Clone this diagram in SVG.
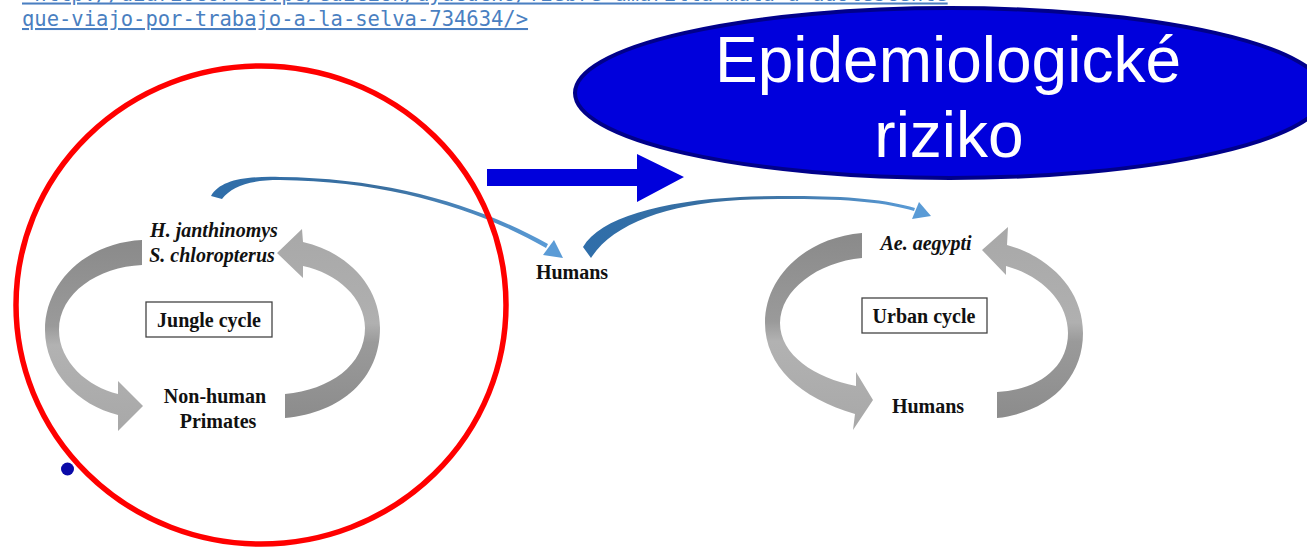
<svg xmlns="http://www.w3.org/2000/svg" width="1307" height="549" viewBox="0 0 1307 549">
<defs>
<style>
.url{font-family:"DejaVu Sans Mono","Liberation Mono",monospace;font-size:20.5px;fill:#4a7fc1;text-decoration:underline}
.lbl{font-family:"Liberation Serif","Times New Roman",serif;font-size:20px;font-weight:bold;fill:#111}
.it{font-style:italic}
.box{fill:#fff;stroke:#444;stroke-width:1.3}
.title{font-family:"Liberation Sans",Arial,sans-serif;font-size:64px;fill:#fff}
</style>
<linearGradient id="gL" x1="0" y1="0" x2="0" y2="1">
<stop offset="0" stop-color="#8a8a8a"/><stop offset="0.45" stop-color="#9a9a9a"/><stop offset="0.55" stop-color="#b2b2b2"/><stop offset="1" stop-color="#a8a8a8"/>
</linearGradient>
<linearGradient id="gR" x1="0" y1="0" x2="0" y2="1">
<stop offset="0" stop-color="#a8a8a8"/><stop offset="0.5" stop-color="#b0b0b0"/><stop offset="0.6" stop-color="#9a9a9a"/><stop offset="1" stop-color="#8c8c8c"/>
</linearGradient>
<linearGradient id="gB" x1="0" y1="0" x2="1" y2="0">
<stop offset="0" stop-color="#2f6eaa"/><stop offset="0.5" stop-color="#3a6f9f"/><stop offset="1" stop-color="#5a9bd6"/>
</linearGradient>
</defs>
<rect width="1307" height="549" fill="#fff"/>

<g id="url">
<text class="url" x="22" y="0.5">&lt;http://diariocorreo.pe/edicion/ayacucho/fiebre-amarilla-mata-a-adolescente</text>
<text class="url" x="22" y="26">que-viajo-por-trabajo-a-la-selva-734634/&gt;</text>
</g>

<g id="title">
<ellipse cx="950" cy="93" rx="375" ry="85" fill="#0000dc" stroke="#00008a" stroke-width="4"/>
<text class="title" x="948" y="82" text-anchor="middle">Epidemiologické</text>
<text class="title" x="949" y="157" text-anchor="middle">riziko</text>
</g>

<g id="connectors">
<path d="M142,240 C85,243 45,283 45,330 C45,372 78,405 118,415 L118,431 L143,406 L118,381 L118,394 C88,387 59,362 59,330 C59,293 98,267 142,265 Z" fill="url(#gL)"/>
<path d="M285,418 C342,413 380,378 380,328 C380,287 348,252 303,242 L302,229 L277,253 L303,278 L303,266 C337,273 365,298 365,328 C365,365 330,390 285,394 Z" fill="url(#gR)"/>
<path d="M862,233 C805,238 765,277 765,323 C765,366 800,398 855,414 L853,430 L873,400 L856,372 L856,386 C815,378 780,355 780,323 C780,290 818,262 862,258 Z" fill="url(#gL)"/>
<path d="M997,418 C1050,412 1083,378 1083,333 C1083,290 1050,257 1007,245 L1008,227 L982,250 L1006,275 L1006,266 C1042,276 1068,302 1068,333 C1068,368 1038,390 997,392 Z" fill="url(#gR)"/>
<path fill="url(#gB)" d="M211,196 C220,180 245,176 280,177 C390,178 480,206 548,244 L546,248 C480,210 390,181 280,180 C250,180 232,186 222,199 Z"/>
<polygon fill="#5a9bd6" points="563,258 543,255 554,240"/>
<path fill="url(#gB)" d="M583,247 C600,218 660,201 740,197 C820,194 880,197 915,208 L914,211 C880,200 820,197 740,200 C665,204 612,225 591,258 Z"/>
<polygon fill="#5a9bd6" points="931,216 912,219 919,202"/>
<polygon points="487,169 637,169 637,154 684,177 637,202 637,186 487,186" fill="#0000dc"/>
</g>

<g id="jungle-vectors">
<text class="lbl it" x="214" y="237" text-anchor="middle">H. janthinomys</text>
<text class="lbl it" x="212" y="262" text-anchor="middle">S. chloropterus</text>
</g>
<g id="jungle-cycle">
<rect class="box" x="146" y="302" width="126" height="35"/>
<text class="lbl" x="209" y="327" text-anchor="middle">Jungle cycle</text>
</g>
<g id="primates">
<text class="lbl" x="215" y="403" text-anchor="middle">Non-human</text>
<text class="lbl" x="218" y="428" text-anchor="middle">Primates</text>
</g>
<g id="humans-mid">
<text class="lbl" x="572" y="279" text-anchor="middle">Humans</text>
</g>
<g id="aegypti">
<text class="lbl it" x="926" y="250" text-anchor="middle">Ae. aegypti</text>
</g>
<g id="urban-cycle">
<rect class="box" x="862" y="298" width="125" height="35"/>
<text class="lbl" x="924" y="323" text-anchor="middle">Urban cycle</text>
</g>
<g id="humans-urban">
<text class="lbl" x="928" y="413" text-anchor="middle">Humans</text>
</g>

<g id="highlight">
<ellipse cx="261" cy="305" rx="245" ry="239" fill="none" stroke="#ff0000" stroke-width="5.5"/>
</g>
<g id="bullet">
<circle cx="67.5" cy="469" r="6.5" fill="#0a0aa8"/>
</g>
</svg>
